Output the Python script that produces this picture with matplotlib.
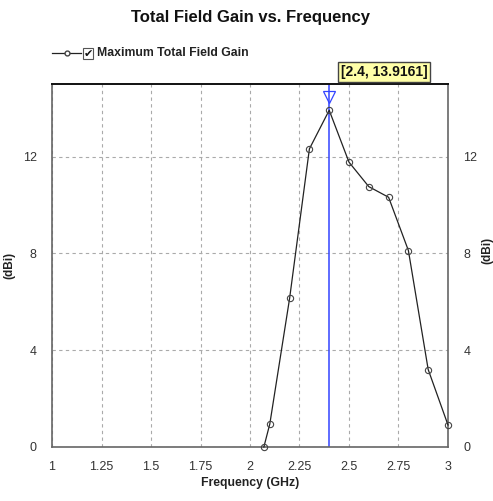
import matplotlib.pyplot as plt
from matplotlib.patches import Rectangle
from matplotlib.lines import Line2D

plt.rcParams['font.family'] = ['Liberation Sans', 'DejaVu Sans']

# Gain sweep (GHz, dBi)
freq = [2.07, 2.1, 2.2, 2.3, 2.4, 2.5, 2.6, 2.7, 2.8, 2.9, 3.0]
gain = [0.0, 0.95, 6.14, 12.32, 13.9161, 11.77, 10.76, 10.32, 8.12, 3.2, 0.91]
marker_freq = 2.4
marker_gain = 13.9161

xticks = [1, 1.25, 1.5, 1.75, 2, 2.25, 2.5, 2.75, 3]
xticklabels = ['1', '1.25', '1.5', '1.75', '2', '2.25', '2.5', '2.75', '3']
yticks = [0, 4, 8, 12]

fig = plt.figure(figsize=(4.93, 5.01), dpi=100)
ax = fig.add_axes([0.1055, 0.1078, 0.8032, 0.7245])

ax.plot(freq, gain, color='#222222', linewidth=0.9, marker='o', markersize=4.5,
        markerfacecolor='none', markeredgecolor='#444444', markeredgewidth=0.8,
        clip_on=False, zorder=3)

# marker line at the peak
ax.axvline(marker_freq, color='#3344ff', linewidth=1.1, zorder=2)
ax.plot([marker_freq], [14.45], marker='v', markersize=8, markerfacecolor='none',
        markeredgecolor='#3344ff', markeredgewidth=0.9, clip_on=False, zorder=4)
ax.annotate(f'[{marker_freq:g}, {marker_gain:g}]', xy=(marker_freq, 15),
            xytext=(2.46, 15.5), textcoords='data', fontsize=10, fontweight='bold',
            color='#111111', ha='left', va='center', annotation_clip=False,
            bbox=dict(boxstyle='square,pad=0.2', facecolor='#ffffa8',
                      edgecolor='#444444', linewidth=1.0))

ax.set_xlim(1, 3)
ax.set_ylim(0, 15)
ax.set_xticks(xticks)
ax.set_xticklabels(xticklabels)
ax.set_yticks(yticks)
ax.grid(True, color='#aaaaaa', linestyle=(0, (3, 3)), linewidth=0.8)
ax.tick_params(axis='both', length=0, labelsize=9, colors='#333333', pad=10)
ax.tick_params(axis='y', labelright=True, right=False, pad=11)

for side in ['left', 'right', 'bottom']:
    ax.spines[side].set_color('#666666')
    ax.spines[side].set_linewidth(1.2)
ax.spines['top'].set_color('#111111')
ax.spines['top'].set_linewidth(1.4)

ax.set_xlabel('Frequency (GHz)', fontsize=8.8, fontweight='bold', color='#222222', labelpad=3)
ax.set_ylabel('(dBi)', fontsize=8.5, fontweight='bold', color='#222222')
ax.yaxis.set_label_coords(-0.093, 0.5)
fig.text(0.988, 0.5, '(dBi)', rotation=90, fontsize=8.5, fontweight='bold',
         color='#222222', ha='center', va='center')

fig.text(0.508, 0.965, 'Total Field Gain vs. Frequency', fontsize=12, fontweight='bold',
         ha='center', va='center', color='#111111')

# legend row
fig.lines.append(Line2D([0.105, 0.165], [0.894, 0.894], color='#222222', linewidth=0.9,
                        transform=fig.transFigure))
fig.lines.append(Line2D([0.135], [0.894], marker='o', markersize=3.5, markerfacecolor='white',
                        markeredgecolor='#444444', transform=fig.transFigure))
fig.patches.append(Rectangle((0.168, 0.882), 0.021, 0.022, facecolor='white',
                             edgecolor='#555555', linewidth=0.8, transform=fig.transFigure))
fig.text(0.1785, 0.892, '\u2714', fontsize=8, ha='center', va='center', color='#111111',
         family=['DejaVu Sans'])
fig.text(0.197, 0.894, 'Maximum Total Field Gain', fontsize=8.8, fontweight='bold',
         ha='left', va='center', color='#222222')

fig.savefig('out.png', dpi=100)
